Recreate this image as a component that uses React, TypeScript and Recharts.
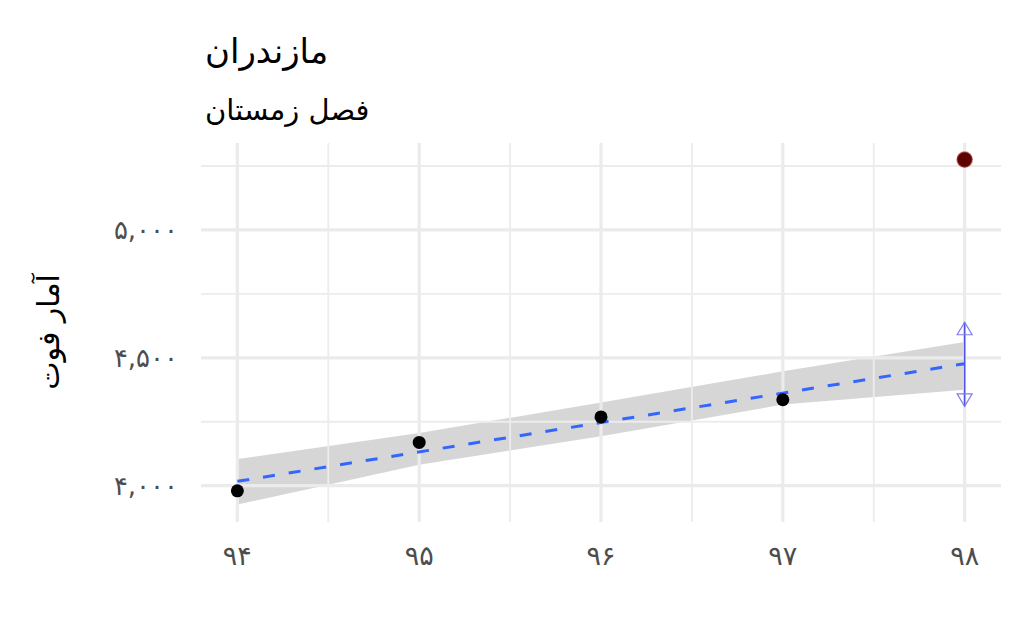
import React from 'react';
import {
  ComposedChart,
  XAxis,
  YAxis,
  Area,
  Line,
  Scatter,
  ReferenceLine,
} from 'recharts';

// ---- data ----
const years = [94, 95, 96, 97];
const deaths = [3980, 4169, 4269, 4336];
const forecastYear = [98];
const forecastValue = [5275];
const bandYears = [94, 95, 96, 97, 98];
const bandLow = [3926, 4082, 4193, 4317, 4375];
const bandHigh = [4104, 4206, 4325, 4447, 4562];
const fitYears = [94, 98];
const fitValues = [4017, 4477];
const intervalYear = 98;
const intervalLow = 4310;
const intervalHigh = 4639;

const xTicks = [94, 95, 96, 97, 98];
const xTickLabels = ['۹۴', '۹۵', '۹۶', '۹۷', '۹۸'];
const yTicks = [4000, 4500, 5000];
const yTickLabels = ['۴,۰۰۰', '۴,۵۰۰', '۵,۰۰۰'];
const xMinor = [94.5, 95.5, 96.5, 97.5];
const yMinor = [4250, 4750, 5250];

const title = 'مازندران';
const subtitle = 'فصل زمستان';
const yLabel = 'آمار فوت';

// ---- derived tables ----
const pointData = years.map((x, i) => ({ x, y: deaths[i] }));
const forecastData = forecastYear.map((x, i) => ({ x, y: forecastValue[i] }));
const bandData = bandYears.map((x, i) => ({ x, band: [bandLow[i], bandHigh[i]] }));
const fitData = fitYears.map((x, i) => ({ x, y: fitValues[i] }));
const shaftData = [
  { x: intervalYear, y: intervalLow },
  { x: intervalYear, y: intervalHigh },
];
const headData = [
  { x: intervalYear, y: intervalHigh, dir: -1 },
  { x: intervalYear, y: intervalLow, dir: 1 },
];

const FONT = '"DejaVu Sans", sans-serif';
const W = 1016;
const H = 632;

const BlackDot = (p: any) => <circle cx={p.cx} cy={p.cy} r={6.5} fill="#000" />;
const RedDot = (p: any) => (
  <circle cx={p.cx} cy={p.cy} r={7.6} fill="#5c0000" stroke="#a03030" strokeOpacity={0.6} strokeWidth={1.5} />
);
const ArrowHead = (p: any) => {
  const d = p.payload.dir;
  const tipY = p.cy;
  const baseY = p.cy - d * 12.5;
  return (
    <polygon
      points={`${p.cx},${tipY} ${p.cx - 7.5},${baseY} ${p.cx + 7.5},${baseY}`}
      fill="none"
      stroke="#7f7fe8"
      strokeWidth={1.2}
    />
  );
};

export default function App() {
  return (
    <div style={{ position: 'relative', width: W, height: H }}>
      <ComposedChart
        width={W}
        height={H}
        margin={{ top: 135, right: 23, bottom: 58, left: 93 }}
      >
        <XAxis
          type="number"
          dataKey="x"
          domain={[93.8, 98.2]}
          ticks={xTicks}
          allowDataOverflow
          axisLine={false}
          tickLine={false}
          tickSize={0}
          tickMargin={24}
          height={60}
          tick={{ fill: '#4d4d4d', fontSize: 27, fontFamily: FONT }}
          tickFormatter={(v: number) => xTickLabels[xTicks.indexOf(v)] ?? ''}
        />
        <YAxis
          type="number"
          domain={[3858, 5340]}
          ticks={yTicks}
          allowDataOverflow
          axisLine={false}
          tickLine={false}
          tickSize={0}
          tickMargin={23}
          width={100}
          tick={{ fill: '#4d4d4d', fontSize: 26, fontFamily: FONT }}
          tickFormatter={(v: number) => yTickLabels[yTicks.indexOf(v)] ?? ''}
        />
        {xMinor.map((v) => (
          <ReferenceLine key={'xm' + v} x={v} stroke="#ececec" strokeWidth={1.8} />
        ))}
        {yMinor.map((v) => (
          <ReferenceLine key={'ym' + v} y={v} stroke="#ececec" strokeWidth={1.8} />
        ))}
        {xTicks.map((v) => (
          <ReferenceLine key={'xM' + v} x={v} stroke="#ebebeb" strokeWidth={3.2} />
        ))}
        {yTicks.map((v) => (
          <ReferenceLine key={'yM' + v} y={v} stroke="#ebebeb" strokeWidth={3.2} />
        ))}
        <Area
          data={bandData}
          dataKey="band"
          type="linear"
          fill="#999999"
          fillOpacity={0.4}
          stroke="none"
          isAnimationActive={false}
          activeDot={false}
        />
        <Scatter data={pointData} dataKey="y" shape={BlackDot} isAnimationActive={false} />
        <Line
          data={fitData}
          dataKey="y"
          type="linear"
          stroke="#3366FF"
          strokeWidth={3}
          strokeDasharray="12 14"
          dot={false}
          activeDot={false}
          isAnimationActive={false}
        />
        <Line
          data={shaftData}
          dataKey="y"
          type="linear"
          stroke="#5050e6"
          strokeWidth={1.6}
          dot={false}
          activeDot={false}
          isAnimationActive={false}
        />
        <Scatter data={headData} dataKey="y" shape={ArrowHead} isAnimationActive={false} />
        <Scatter data={forecastData} dataKey="y" shape={RedDot} isAnimationActive={false} />
      </ComposedChart>
      <svg
        width={W}
        height={H}
        style={{ position: 'absolute', left: 0, top: 0, pointerEvents: 'none' }}
      >
        <text x={197} y={55} fontFamily={FONT} fontSize={34} fill="#000">
          {title}
        </text>
        <text x={197} y={112} fontFamily={FONT} fontSize={29} fill="#000">
          {subtitle}
        </text>
        <text
          x={40}
          y={324}
          fontFamily={FONT}
          fontSize={30}
          fill="#000"
          textAnchor="middle"
          dominantBaseline="central"
          transform="rotate(-90, 40, 324)"
        >
          {yLabel}
        </text>
      </svg>
    </div>
  );
}
